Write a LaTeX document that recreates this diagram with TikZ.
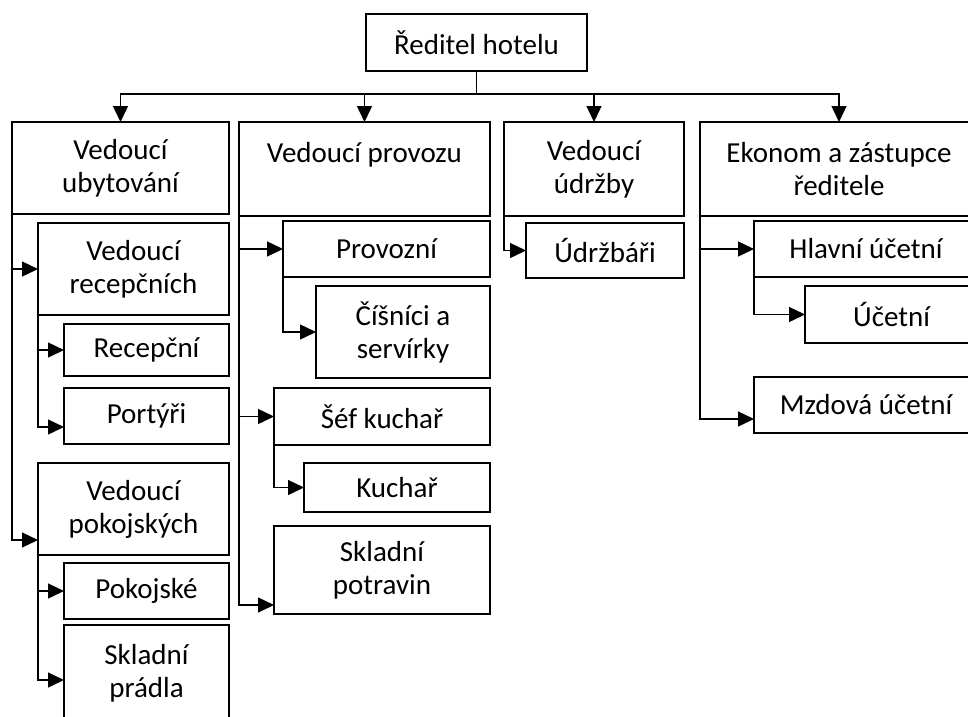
\documentclass[tikz,border=0pt]{standalone}
\usepackage{fontspec}
\setmainfont{Carlito}
\usetikzlibrary{arrows.meta}

\begin{document}
\begin{tikzpicture}[x=1pt, y=-1pt, font=\fontsize{29}{33}\selectfont,
  unit/.style={draw, line width=1.8pt, anchor=north west, align=center,
    inner sep=0pt, outer sep=0pt},
  link/.style={-{Triangle[length=16pt, width=15pt]}, line width=1.4pt}]
  \useasboundingbox (0,0) rectangle (968,716);
  \clip (0,0) rectangle (968,716);

  \node[unit, minimum width=221pt, minimum height=57pt] (director) at (366,14)
    {Ředitel hotelu};

  % heads of the four departments
  \node[unit, minimum width=217pt, minimum height=92pt] (lodging) at (12,122)
    {Vedoucí\\ubytování};
  \node[unit, minimum width=251pt, minimum height=94pt] (operations) at (239,122)
    {Vedoucí provozu\\\mbox{}};
  \node[unit, minimum width=180pt, minimum height=94pt] (maintenance) at (504,122)
    {Vedoucí\\údržby};
  \node[unit, minimum width=278pt, minimum height=94pt] (economist) at (700,122)
    {Ekonom a zástupce\\ředitele};

  % lodging
  \node[unit, minimum width=191pt, minimum height=92pt] (frontdesk) at (38,223)
    {Vedoucí\\recepčních};
  \node[unit, minimum width=165pt, minimum height=52pt] (reception) at (64,324)
    {Recepční};
  \node[unit, minimum width=165pt, minimum height=56pt] (porters) at (64,388)
    {Portýři};
  \node[unit, minimum width=191pt, minimum height=92pt] (housekeeping) at (38,463)
    {Vedoucí\\pokojských};
  \node[unit, minimum width=165pt, minimum height=56pt] (maids) at (64,563)
    {Pokojské};
  \node[unit, minimum width=165pt, minimum height=96pt] (linen) at (64,625)
    {Skladní\\prádla};

  % operations
  \node[unit, minimum width=207pt, minimum height=56pt] (service) at (283,221)
    {Provozní};
  \node[unit, minimum width=174pt, minimum height=92pt] (waiters) at (316,286)
    {Číšníci a\\servírky};
  \node[unit, minimum width=216pt, minimum height=57pt] (chef) at (274,388)
    {Šéf kuchař};
  \node[unit, minimum width=186pt, minimum height=49pt] (cook) at (304,463)
    {Kuchař};
  \node[unit, minimum width=216pt, minimum height=88pt] (foodstore) at (274,526)
    {Skladní\\potravin};

  % maintenance
  \node[unit, minimum width=158pt, minimum height=55pt] (repairmen) at (526,223)
    {Údržbáři};

  % economy
  \node[unit, minimum width=224pt, minimum height=56pt] (chiefacc) at (754,221)
    {Hlavní účetní};
  \node[unit, minimum width=173pt, minimum height=57pt] (accountant) at (805,286)
    {Účetní};
  \node[unit, minimum width=224pt, minimum height=56pt] (payroll) at (754,377)
    {Mzdová účetní};

  \foreach \head in {lodging, operations, maintenance, economist}
    \draw[link] (director.south) -- ++(0,23) -| (\head.north);

  \draw[link] (lodging.south west) |- (frontdesk.west);
  \draw[link] (lodging.south west) |- ([yshift=15pt]housekeeping.south west);
  \draw[link] (frontdesk.south west) |- (reception.west);
  \draw[link] (frontdesk.south west) |- ([yshift=17pt]porters.south west);
  \draw[link] (housekeeping.south west) |- (maids.west);
  \draw[link] (housekeeping.south west) |- ([yshift=-55pt]linen.north west);

  \draw[link] (operations.south west) |- (service.west);
  \draw[link] (service.south west) |- (waiters.west);
  \draw[link] (operations.south west) |- (chef.west);
  \draw[link] (chef.south west) |- (cook.west);
  \draw[link] (operations.south west) |- ([yshift=9pt]foodstore.south west);

  \draw[link] (maintenance.south west) |- (repairmen.west);

  \draw[link] (economist.south west) |- (chiefacc.west);
  \draw[link] (chiefacc.south west) |- (accountant.west);
  \draw[link] (economist.south west) |- ([yshift=14pt]payroll.south west);
\end{tikzpicture}
\end{document}
